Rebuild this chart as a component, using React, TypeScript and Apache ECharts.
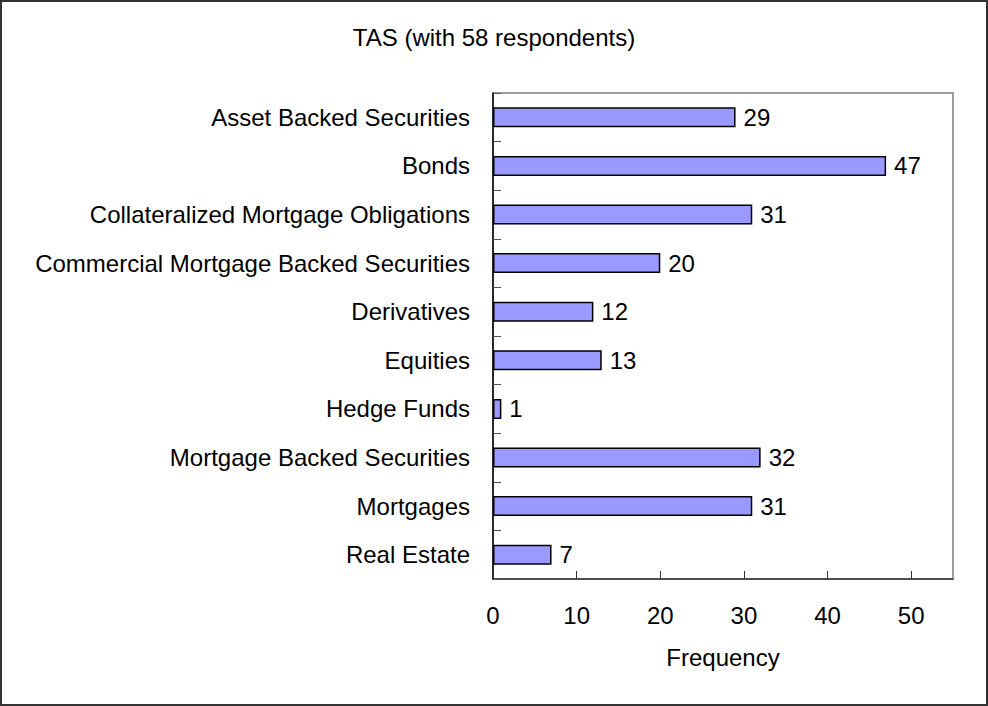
import React, { useEffect, useRef } from "react";
import * as echarts from "echarts";

const titleText = "TAS (with 58 respondents)";
const axisName = "Frequency";
const categories = [
  "Asset Backed Securities",
  "Bonds",
  "Collateralized Mortgage Obligations",
  "Commercial Mortgage Backed Securities",
  "Derivatives",
  "Equities",
  "Hedge Funds",
  "Mortgage Backed Securities",
  "Mortgages",
  "Real Estate",
];
const frequencies = [29, 47, 31, 20, 12, 13, 1, 32, 31, 7];
const xMin = 0;
const xMax = 55;
const xInterval = 10;

const FONT = "'Liberation Sans', Arial, sans-serif";

export default function App() {
  const ref = useRef<HTMLDivElement>(null);
  useEffect(() => {
    if (!ref.current) return;
    const chart = echarts.init(ref.current, undefined, { renderer: "svg" });
    chart.setOption({
      animation: false,
      backgroundColor: "#ffffff",
      textStyle: { fontFamily: FONT },
      title: {
        text: titleText,
        left: "center",
        top: 20,
        textStyle: { fontFamily: FONT, fontSize: 24, fontWeight: "normal", color: "#000" },
      },
      graphic: [
        {
          type: "rect",
          shape: { x: 1, y: 1, width: 986, height: 704 },
          style: { fill: "none", stroke: "#333", lineWidth: 2 },
          silent: true,
        },
      ],
      grid: {
        left: 493,
        right: 35,
        top: 93,
        bottom: 127,
        show: true,
        borderColor: "#808080",
        borderWidth: 1.5,
        backgroundColor: "transparent",
      },
      xAxis: {
        type: "value",
        min: xMin,
        max: xMax,
        interval: xInterval,
        name: axisName,
        nameLocation: "middle",
        nameGap: 66,
        nameTextStyle: { fontFamily: FONT, fontSize: 24, color: "#000" },
        axisLine: { show: true, lineStyle: { color: "#333", width: 1.5 } },
        axisTick: { show: true, inside: true, length: 8, lineStyle: { color: "#333", width: 1 } },
        axisLabel: { fontFamily: FONT, fontSize: 24, color: "#000", margin: 24, showMaxLabel: false },
        splitLine: { show: false },
      },
      yAxis: {
        type: "category",
        data: categories,
        inverse: true,
        axisLine: { show: true, lineStyle: { color: "#000", width: 1.5 } },
        axisTick: { show: true, inside: true, length: 8, alignWithLabel: false, lineStyle: { color: "#555", width: 1 } },
        axisLabel: { fontFamily: FONT, fontSize: 24, color: "#000", margin: 23 },
        splitLine: { show: false },
      },
      series: [
        {
          type: "bar",
          data: frequencies,
          barWidth: 20,
          itemStyle: { color: "#9999FF", borderColor: "#000", borderWidth: 1.5 },
          label: {
            show: true,
            position: "right",
            distance: 8,
            fontFamily: FONT,
            fontSize: 24,
            color: "#000",
          },
        },
      ],
    });
    return () => chart.dispose();
  }, []);
  return (
    <div
      ref={ref}
      style={{ position: "absolute", left: 0, top: 0, width: 988, height: 706 }}
    />
  );
}
